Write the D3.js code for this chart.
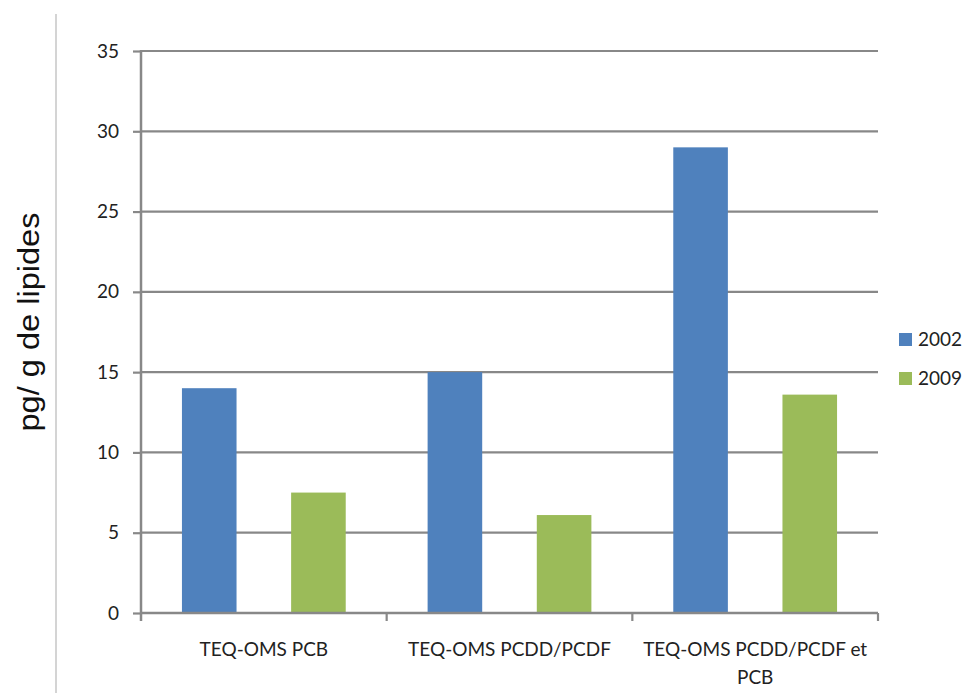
<!DOCTYPE html>
<html>
<head>
<meta charset="utf-8">
<script src="https://cdn.jsdelivr.net/npm/d3@7"></script>
<style>
    body { margin: 0; background: #fff; }
    svg { display: block; }
</style>
</head>
<body>
<svg id="bar-chart"></svg>
<script>
// Chart data: categories, series and values
const categories = ["TEQ-OMS PCB", "TEQ-OMS PCDD/PCDF", "TEQ-OMS PCDD/PCDF et PCB"];
const series = ["2002", "2009"];
const values_2002 = [14, 15, 29];
const values_2009 = [7.5, 6.1, 13.6];
const y_ticks = [0, 5, 10, 15, 20, 25, 30, 35];
const series_colors = ["#4f81bd", "#9bbb59"];
const y_title = "pg/ g de lipides";

// Configure the dimensions of the chart
const width = 967, height = 693;
const margins = { top: 51, right: 89, bottom: 80, left: 141 };

// Build the table used by the grouped bars
const table = categories.map(function (c, i) {
    return { category: c, values: [values_2002[i], values_2009[i]] };
});

// Scales for the categories, the series inside a category, and the values
const x_scale = d3.scaleBand()
    .domain(categories)
    .range([margins.left, width - margins.right]);
const x_inner = d3.scaleBand()
    .domain(series)
    .range([0, x_scale.bandwidth()])
    .paddingInner(0.5)
    .paddingOuter(0.375);
const y_scale = d3.scaleLinear()
    .domain([0, 35])
    .range([height - margins.bottom, margins.top]);
const color_scale = d3.scaleOrdinal().domain(series).range(series_colors);

// Create the chart container
const svg = d3.select("#bar-chart")
    .attr("width", width)
    .attr("height", height);

// Thin grey rule on the left of the picture
svg.append("line")
    .attr("x1", 56).attr("x2", 56)
    .attr("y1", 14).attr("y2", height)
    .attr("stroke", "#c6c6c6")
    .attr("stroke-width", 1.5);

// Horizontal gridlines
svg.append("g")
    .selectAll("line")
    .data(y_ticks.filter(function (d) { return d > 0; }))
    .enter().append("line")
    .attr("x1", margins.left)
    .attr("x2", width - margins.right)
    .attr("y1", function (d) { return y_scale(d); })
    .attr("y2", function (d) { return y_scale(d); })
    .attr("stroke", "#888")
    .attr("stroke-width", 2.2);

// Draw the grouped bars
svg.append("g")
    .selectAll("g")
    .data(table)
    .enter().append("g")
    .attr("transform", function (d) { return "translate(" + x_scale(d.category) + ",0)"; })
    .selectAll("rect")
    .data(function (d) { return d.values.map(function (v, i) { return { key: series[i], value: v }; }); })
    .enter().append("rect")
    .attr("x", function (d) { return x_inner(d.key); })
    .attr("y", function (d) { return y_scale(d.value); })
    .attr("width", x_inner.bandwidth())
    .attr("height", function (d) { return y_scale(0) - y_scale(d.value); })
    .attr("fill", function (d) { return color_scale(d.key); });

// Y axis
const y_axis = svg.append("g")
    .attr("transform", "translate(" + margins.left + ",0)")
    .call(d3.axisLeft(y_scale).tickValues(y_ticks).tickSize(8).tickPadding(14));
y_axis.select(".domain").remove();
y_axis.selectAll(".tick line").attr("stroke", "#888").attr("stroke-width", 2.2);
y_axis.selectAll(".tick text")
    .attr("font-family", "Lato, sans-serif")
    .attr("font-size", 19)
    .attr("fill", "#222");
y_axis.append("line")
    .attr("x1", 0).attr("x2", 0)
    .attr("y1", margins.top - 1)
    .attr("y2", height - margins.bottom + 8)
    .attr("stroke", "#888")
    .attr("stroke-width", 2.5);

// X axis with ticks between the categories
const x_axis = svg.append("g")
    .attr("transform", "translate(0," + y_scale(0) + ")");
x_axis.append("line")
    .attr("x1", margins.left).attr("x2", width - margins.right)
    .attr("stroke", "#888")
    .attr("stroke-width", 2.5);
x_axis.selectAll(".sep")
    .data(categories)
    .enter().append("line")
    .attr("class", "sep")
    .attr("x1", function (d) { return x_scale(d) + x_scale.bandwidth(); })
    .attr("x2", function (d) { return x_scale(d) + x_scale.bandwidth(); })
    .attr("y1", 0).attr("y2", 8)
    .attr("stroke", "#888")
    .attr("stroke-width", 2.2);

// Category labels, wrapped when too long
const labels = x_axis.selectAll(".cat")
    .data(categories)
    .enter().append("text")
    .attr("class", "cat")
    .attr("x", function (d) { return x_scale(d) + x_scale.bandwidth() / 2; })
    .attr("y", 43)
    .attr("text-anchor", "middle")
    .attr("font-family", "Lato, sans-serif")
    .attr("font-size", 19)
    .attr("fill", "#222")
    .text(function (d) { return d; });
labels.each(function (d) {
    const text = d3.select(this);
    const words = d.split(" ");
    const x = text.attr("x");
    text.text(null);
    let line = [];
    let tspan = text.append("tspan").attr("x", x);
    words.forEach(function (w) {
        line.push(w);
        tspan.text(line.join(" "));
        if (tspan.node().getComputedTextLength() > 230 && line.length > 1) {
            line.pop();
            tspan.text(line.join(" "));
            line = [w];
            tspan = text.append("tspan").attr("x", x).attr("dy", 28).text(w);
        }
    });
});

// Legend on the right
const legend = svg.append("g")
    .selectAll("g")
    .data(series)
    .enter().append("g")
    .attr("transform", function (d, i) { return "translate(899," + (333 + i * 39) + ")"; });
legend.append("rect")
    .attr("width", 13)
    .attr("height", 13)
    .attr("fill", function (d) { return color_scale(d); });
legend.append("text")
    .attr("x", 19)
    .attr("y", 13)
    .attr("font-family", "Lato, sans-serif")
    .attr("font-size", 19)
    .attr("fill", "#222")
    .text(function (d) { return d; });

// Y axis title
svg.append("text")
    .attr("transform", "translate(39,322) rotate(-90)")
    .attr("text-anchor", "middle")
    .attr("font-family", "'Liberation Sans', Arial, sans-serif")
    .attr("font-size", 30)
    .attr("fill", "#111")
    .attr("textLength", 219)
    .attr("lengthAdjust", "spacingAndGlyphs")
    .text(y_title);
</script>
</body>
</html>
